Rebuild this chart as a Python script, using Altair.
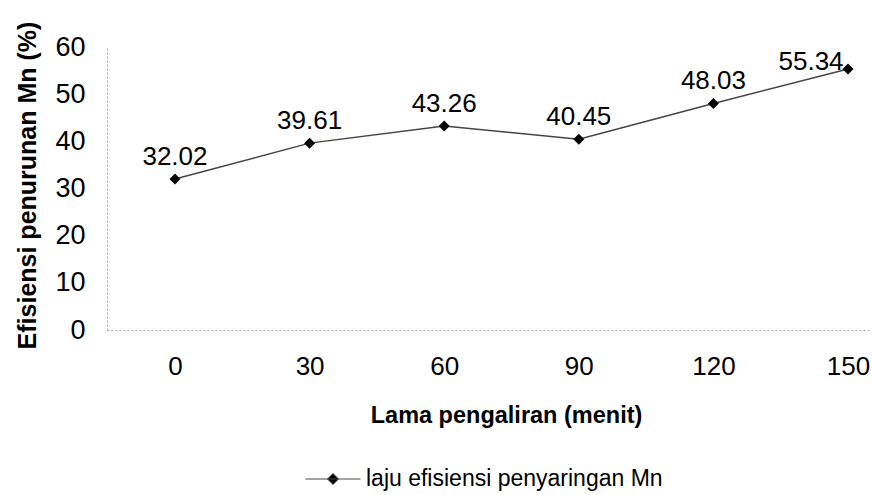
import altair as alt
import pandas as pd

minutes = [0, 30, 60, 90, 120, 150]
efficiency = [32.02, 39.61, 43.26, 40.45, 48.03, 55.34]
labels = ["32.02", "39.61", "43.26", "40.45", "48.03", "55.34"]
series = ["laju efisiensi penyaringan Mn"] * 6

df = pd.DataFrame({"menit": minutes, "eff": efficiency, "lab": labels, "seri": series})
FONT = "Liberation Sans"

x = alt.X("menit:Q", scale=alt.Scale(domain=[-15.15, 154.9], nice=False, zero=False),
          axis=alt.Axis(values=minutes, title="Lama pengaliran (menit)", grid=False, ticks=False,
                        labelFontSize=26, labelPadding=23, titleFontSize=23.5, titleFontWeight="bold",
                        titleX=399, titleY=85, titleBaseline="middle",
                        domainColor="#aaaaaa", domainDash=[2, 2], labelColor="black",
                        titleColor="black", labelFont=FONT, titleFont=FONT))
y = alt.Y("eff:Q", scale=alt.Scale(domain=[0, 60], nice=False),
          axis=alt.Axis(values=[0, 10, 20, 30, 40, 50, 60], title="Efisiensi penurunan Mn (%)", grid=False,
                        ticks=False, labelFontSize=27, labelPadding=22, titleFontSize=25,
                        titleFontWeight="bold", titleX=-80, titleY=138, titleBaseline="middle",
                        domainColor="#aaaaaa", domainDash=[2, 2],
                        labelColor="black", titleColor="black", labelFont=FONT, titleFont=FONT))

diamond_legend = "M-1,0L1,0M0,-0.2L0.2,0L0,0.2L-0.2,0Z"

line = alt.Chart(df).mark_line(strokeWidth=1.4).encode(
    x=x, y=y,
    color=alt.Color("seri:N", scale=alt.Scale(range=["#444444"]),
                    legend=alt.Legend(title=None, orient="none", legendX=198, legendY=404,
                                      symbolType=diamond_legend, symbolSize=3025,
                                      symbolFillColor="black", symbolStrokeColor="#555555",
                                      symbolStrokeWidth=1, labelFontSize=23, labelFont=FONT,
                                      labelColor="black", labelOffset=5, labelLimit=600)))
pts = alt.Chart(df).mark_point(shape="diamond", filled=True, size=120, color="black", opacity=1).encode(x=x, y=y)
txt = alt.Chart(df).transform_filter("datum.menit < 150").mark_text(
    fontSize=26, font=FONT, dy=-22, color="black").encode(x=x, y=y, text="lab:N")
txt_last = alt.Chart(df).transform_filter("datum.menit == 150").mark_text(
    fontSize=26, font=FONT, dx=-37, dy=-7, color="black").encode(x=x, y=y, text="lab:N")

chart = alt.layer(line, pts, txt, txt_last).properties(
    width=763, height=283,
    background="white",
    autosize=alt.AutoSizeParams(type="none"),
    padding={"left": 107, "top": 47, "right": 2, "bottom": 165},
).configure_view(stroke=None)

chart.save("out.html", embed_options={"renderer": "svg", "actions": False})
